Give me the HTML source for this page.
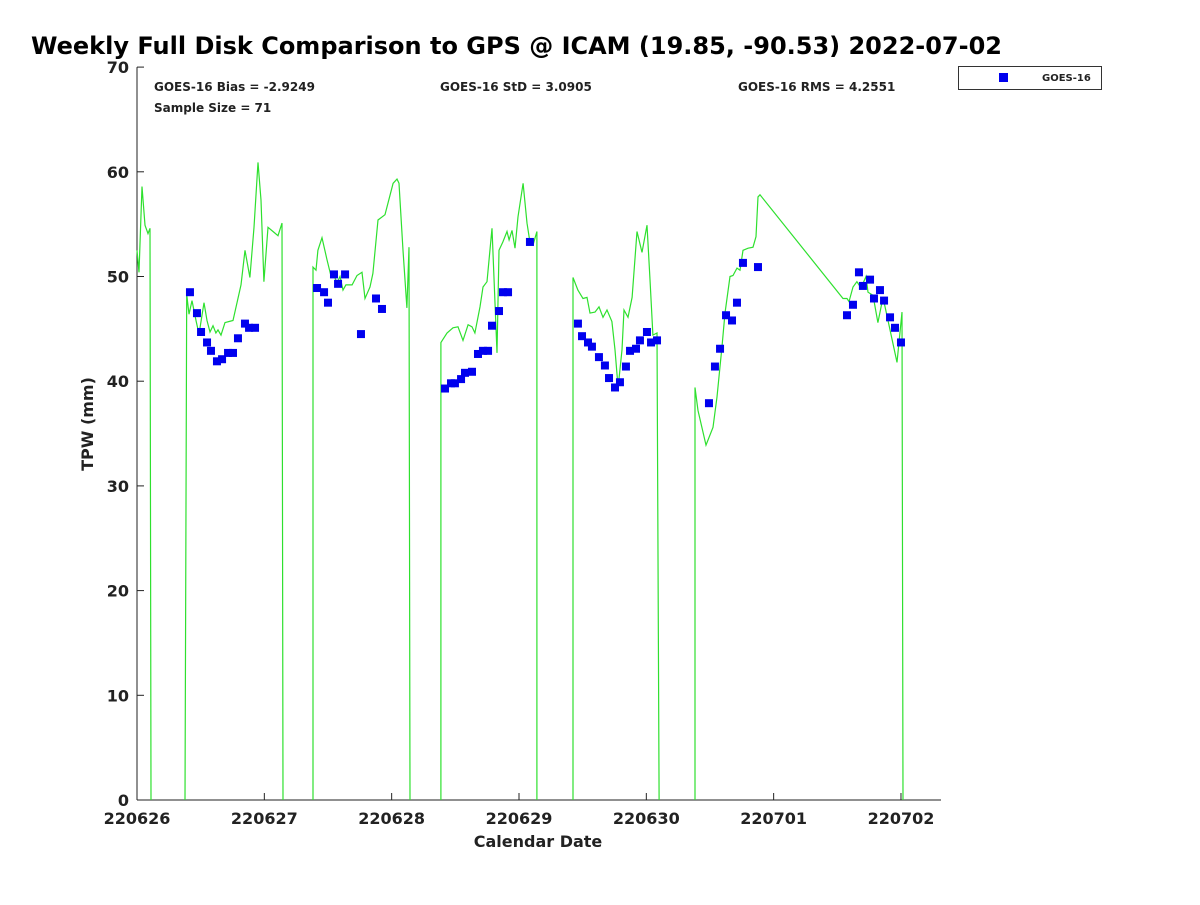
<!DOCTYPE html>
<html><head><meta charset="utf-8"><style>
body{margin:0;background:#fff}
svg text{font-family:"DejaVu Sans","Liberation Sans",sans-serif;font-weight:bold;fill:#222}
</style></head><body>
<svg id="chart" width="1200" height="900" xmlns="http://www.w3.org/2000/svg">
<rect width="1200" height="900" fill="#fff"/>
<text x="31" y="54" font-size="24" fill="#000" style="fill:#000">Weekly Full Disk Comparison to GPS @ ICAM (19.85, -90.53) 2022-07-02</text>
<text x="154" y="91" font-size="12">GOES-16 Bias = -2.9249</text>
<text x="154" y="112" font-size="12">Sample Size = 71</text>
<text x="440" y="91" font-size="12">GOES-16 StD = 3.0905</text>
<text x="738" y="91" font-size="12">GOES-16 RMS = 4.2551</text>
<g>
<rect x="958.5" y="66.5" width="143" height="23" fill="#fff" stroke="#333" stroke-width="1"/>
<rect x="999" y="73" width="9" height="9" fill="#0000ee"/>
<text x="1042" y="81" font-size="10">GOES-16</text>
</g>
<g id="axes"></g>
<g id="marks"></g>
<text x="538" y="847" font-size="16" text-anchor="middle">Calendar Date</text>
<text transform="translate(93,424) rotate(-90)" font-size="16" text-anchor="middle">TPW (mm)</text>
</svg>
<script>
const xTickLabels=["220626","220627","220628","220629","220630","220701","220702"];
const yTickLabels=[0,10,20,30,40,50,60,70];
const gpsDays=[0,0.016,0.039,0.063,0.086,0.102,0.110,
0.377,0.390,0.408,0.432,0.463,0.487,0.526,0.550,0.573,0.597,0.620,0.636,0.660,0.691,0.723,0.754,0.785,0.817,0.848,0.887,0.919,0.950,0.974,0.997,1.029,1.068,1.107,1.139,1.147,
1.382,1.382,1.406,1.421,1.453,1.492,1.524,1.547,1.571,1.594,1.618,1.641,1.689,1.728,1.767,1.791,1.830,1.853,1.893,1.948,2.011,2.042,2.058,2.089,2.120,2.136,2.144,
2.387,2.387,2.435,2.482,2.521,2.560,2.600,2.631,2.654,2.694,2.717,2.749,2.788,2.827,2.843,2.874,2.906,2.922,2.945,2.969,2.992,3.032,3.063,3.086,3.110,3.141,3.141,
3.424,3.424,3.463,3.503,3.534,3.558,3.597,3.628,3.660,3.691,3.730,3.754,3.778,3.809,3.825,3.856,3.888,3.927,3.966,4.005,4.029,4.052,4.084,4.100,
4.382,4.382,4.406,4.469,4.524,4.555,4.594,4.618,4.657,4.681,4.712,4.736,4.759,4.799,4.838,4.861,4.877,4.893,5.545,5.576,5.592,5.623,5.654,5.686,5.725,5.741,5.780,5.819,5.859,5.898,5.969,6.008,6.016];
const gpsTpw=[52.5,50.4,58.6,54.9,54.1,54.6,0,
0,48.3,46.4,47.7,45.8,44.5,47.5,45.8,44.7,45.3,44.6,44.9,44.4,45.6,45.7,45.8,47.5,49.2,52.5,49.9,54.7,60.9,57.3,49.5,54.7,54.3,53.9,55.1,0,
0,50.9,50.6,52.5,53.7,51.6,50.0,50.1,49.4,50.0,48.7,49.2,49.2,50.1,50.4,47.9,49.0,50.3,55.4,55.9,58.9,59.3,58.9,52.5,47.0,52.8,0,
0,43.7,44.6,45.1,45.2,43.9,45.4,45.2,44.6,47.1,49.0,49.5,54.6,42.7,52.5,53.3,54.3,53.5,54.4,52.7,55.7,58.9,55.1,53.3,53.0,54.3,0,
0,49.9,48.7,47.9,48.0,46.5,46.6,47.1,46.1,46.8,45.7,43.0,39.4,43.0,46.8,46.1,48.0,54.3,52.3,54.9,49.7,44.4,44.6,0,
0,39.4,37.2,33.9,35.6,38.5,43.3,46.5,50.0,50.1,50.8,50.6,52.5,52.7,52.8,53.8,57.6,57.8,47.9,47.9,47.6,49.0,49.5,48.9,50.0,48.5,48.2,45.6,48.0,45.8,41.8,46.6,0];
const goesDays=[0.416,0.471,0.503,0.550,0.581,0.628,0.668,0.715,0.754,0.793,0.848,0.880,0.927,
1.414,1.469,1.500,1.547,1.579,1.634,1.759,1.877,1.924,
2.419,2.466,2.497,2.545,2.576,2.631,2.678,2.717,2.757,2.788,2.843,2.874,2.914,3.086,
3.463,3.495,3.542,3.573,3.628,3.675,3.707,3.754,3.793,3.840,3.872,3.919,3.950,4.005,4.037,4.084,
4.492,4.539,4.579,4.626,4.673,4.712,4.759,4.877,5.576,5.623,5.670,5.701,5.757,5.788,5.835,5.867,5.914,5.953,6.000];
const goesTpw=[48.5,46.5,44.7,43.7,42.9,41.9,42.1,42.7,42.7,44.1,45.5,45.1,45.1,
48.9,48.5,47.5,50.2,49.3,50.2,44.5,47.9,46.9,
39.3,39.8,39.8,40.2,40.8,40.9,42.6,42.9,42.9,45.3,46.7,48.5,48.5,53.3,
45.5,44.3,43.7,43.3,42.3,41.5,40.3,39.4,39.9,41.4,42.9,43.1,43.9,44.7,43.7,43.9,
37.9,41.4,43.1,46.3,45.8,47.5,51.3,50.9,46.3,47.3,50.4,49.1,49.7,47.9,48.7,47.7,46.1,45.1,43.7];

const X0=137,DAY=127.33,Y0=800,UNIT=10.47;
const xs=d=>X0+d*DAY, ys=v=>Y0-v*UNIT;
const NS="http://www.w3.org/2000/svg";
const axes=document.getElementById('axes'), marks=document.getElementById('marks');
function mk(tag,attrs,parent){const e=document.createElementNS(NS,tag);for(const k in attrs)e.setAttribute(k,attrs[k]);parent.appendChild(e);return e;}

// line segments (split where consecutive values are both zero)
let segs=[[]];
gpsDays.forEach((d,i)=>{
  if(i>0 && gpsTpw[i]===0 && gpsTpw[i-1]===0){segs.push([]);}
  segs[segs.length-1].push(xs(d).toFixed(1)+','+ys(gpsTpw[i]).toFixed(1));
});
segs.forEach(s=>{
  const line=mk('polyline',{points:s.join(' '),fill:'none',stroke:'#2ee02e','stroke-width':1.2},marks);
  
  
});

const yAxis=mk('line',{x1:X0,y1:ys(70),x2:X0,y2:Y0,stroke:'#222','stroke-width':1},axes);


const xAxis=mk('line',{x1:X0,y1:Y0,x2:941,y2:Y0,stroke:'#222','stroke-width':1},axes);


yTickLabels.forEach(v=>{
  const t=mk('line',{x1:X0,y1:ys(v),x2:X0+7,y2:ys(v),stroke:'#222'},axes);
  
  
  const l=mk('text',{x:X0-8,y:ys(v)+6,'font-size':16,'text-anchor':'end'},axes);
  l.textContent=v;
  
  
});
xTickLabels.forEach((s,i)=>{
  const t=mk('line',{x1:xs(i),y1:Y0,x2:xs(i),y2:Y0-7,stroke:'#222'},axes);
  
  
  const l=mk('text',{x:xs(i),y:Y0+24,'font-size':16,'text-anchor':'middle'},axes);
  l.textContent=s;
  
  
});
goesDays.forEach((d,i)=>{
  const r=mk('rect',{x:xs(d)-4,y:ys(goesTpw[i])-4,width:8,height:8,fill:'#0000ee'},marks);
  
  
});
</script>
</body></html>
